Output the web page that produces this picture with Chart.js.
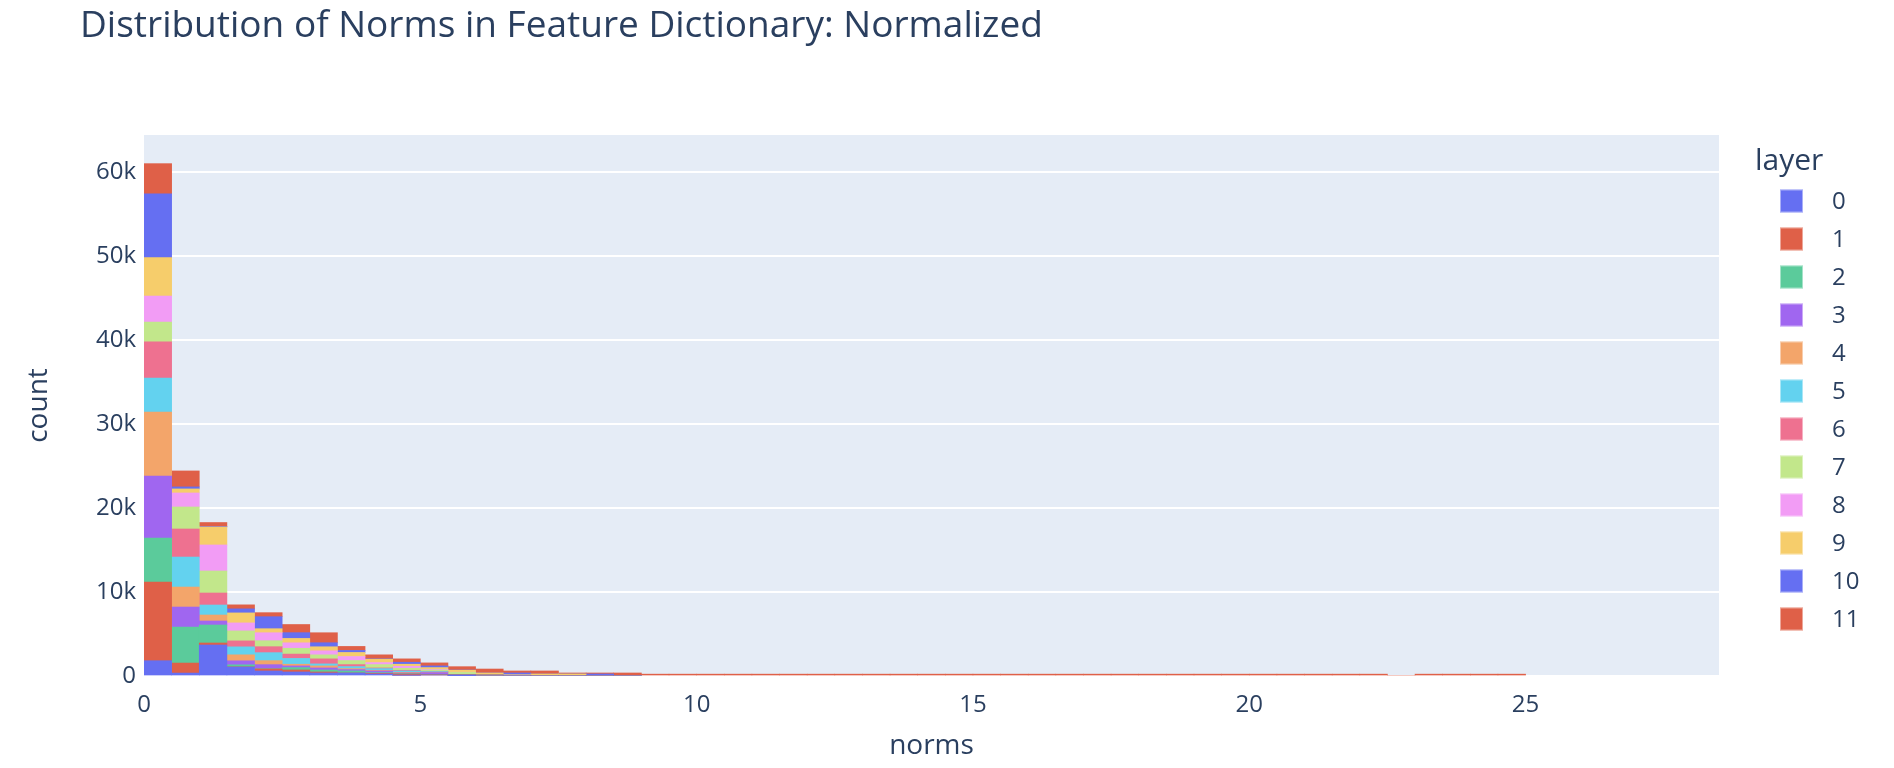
<!DOCTYPE html>
<html>
<head>
<meta charset="utf-8">
<script src="https://cdn.jsdelivr.net/npm/chart.js@4.4.0/dist/chart.umd.min.js"></script>
<style>
  html, body { margin: 0; padding: 0; background: #ffffff; }
  #wrap { width: 1894px; height: 768px; }
</style>
</head>
<body>
<div id="wrap"><canvas id="grafico_normas" width="1894" height="768"></canvas></div>
<script>
var chartTitle = 'Distribution of Norms in Feature Dictionary: Normalized';

// histogram bins of width 0.5, x = bin centre
var binCenters = [0.25,0.75,1.25,1.75,2.25,2.75,3.25,3.75,4.25,4.75,
  5.25,5.75,6.25,6.75,7.25,7.75,8.25,8.75,9.25,9.75,
  10.25,10.75,11.25,11.75,12.25,12.75,13.25,13.75,14.25,14.75,
  15.25,15.75,16.25,16.75,17.25,17.75,18.25,18.75,19.25,19.75,
  20.25,20.75,21.25,21.75,22.25,22.75,23.25,23.75,24.25,24.75];

var xTickValues = [0, 5, 10, 15, 20, 25];
var yTickValues = [0, 10000, 20000, 30000, 40000, 50000, 60000];
var yTickLabels = ['0', '10k', '20k', '30k', '40k', '50k', '60k'];

var layerNames = ['0','1','2','3','4','5','6','7','8','9','10','11'];

var layer0  = [1820,350,3690,1070,600,480,360,360,240,80,120,20,0,0,0,0,0,0];
var layer1  = [9360,1190,240,20,240,240,120,0,80,160,40,120,120,0,0,0,0,0];
var layer2  = [5240,4290,2140,240,30,280,240,240,80,40,40,10,0,0,0,0,0,0];
var layer3  = [7390,2380,480,480,480,200,240,160,200,80,200,10,0,0,0,0,0,0];
var layer4  = [7600,2380,710,710,480,200,240,120,80,80,40,10,0,120,0,0,0,0];
var layer5  = [4060,3570,1190,950,950,690,240,240,200,160,80,10,0,0,0,0,0,0];
var layer6  = [4300,3340,1430,710,710,520,600,240,80,80,40,10,0,0,0,0,0,0];
var layer7  = [2360,2620,2620,1190,710,690,480,480,400,240,160,240,0,0,0,0,0,0];
var layer8  = [3100,1670,3100,950,950,650,480,480,240,240,80,20,0,0,0,0,0,0];
var layer9  = [4580,480,2140,1190,480,520,480,480,400,240,200,240,240,0,240,240,0,0];
var layer10 = [7600,240,50,480,1430,690,480,240,40,240,200,20,0,240,0,0,240,0];
var layer11 = [3580,1900,480,480,480,970,1190,480,480,400,360,400,470,240,360,120,120,360,
  220,220,220,220,220,220,220,220,220,220,
  220,220,220,220,220,220,220,220,220,220,
  220,220,220,220,220,220,220,0,220,220,220,220];

var layerValues = [layer0, layer1, layer2, layer3, layer4, layer5,
  layer6, layer7, layer8, layer9, layer10, layer11];

var layerColors = ['#656ff2','#df6048','#5bcb9b','#a066f0','#f3a56a','#63d2ef',
  '#ee7190','#c2e78b','#f29cf5','#f6cd6b','#656ff2','#df6048'];

var textColor = '#2a3f5f';
var fontFamily = '"Open Sans", "Liberation Sans", sans-serif';

var datasets = [];
for (var i = 0; i < layerNames.length; i++) {
  datasets.push({
    label: layerNames[i],
    data: layerValues[i],
    backgroundColor: layerColors[i],
    borderWidth: 0,
    barPercentage: 1.0,
    categoryPercentage: 1.0
  });
}

// plot background + title + legend (plotly look)
var decor = {
  id: 'decor',
  beforeDraw: function (chart) {
    var c = chart.ctx, a = chart.chartArea;
    c.save();
    c.fillStyle = '#ffffff';
    c.fillRect(0, 0, chart.width, chart.height);
    c.fillStyle = '#e5ecf6';
    c.fillRect(a.left, a.top, a.right - a.left, a.bottom - a.top);
    c.restore();
  },
  afterDraw: function (chart) {
    var c = chart.ctx;
    c.save();
    c.fillStyle = textColor;
    c.textBaseline = 'alphabetic';
    c.textAlign = 'left';
    c.font = '37px ' + fontFamily;
    c.fillText(chartTitle, 80, 37);

    c.font = '30px ' + fontFamily;
    c.textBaseline = 'middle';
    c.fillText('layer', 1755, 161);

    c.font = '24px ' + fontFamily;
    chart.data.datasets.forEach(function (ds, k) {
      var cy = 201 + k * 38;
      c.fillStyle = ds.backgroundColor;
      c.fillRect(1780, cy - 11.5, 23, 23);
      c.strokeStyle = 'rgba(255,255,255,0.45)';
      c.lineWidth = 1;
      c.strokeRect(1780.5, cy - 11, 22, 22);
      c.fillStyle = textColor;
      c.fillText(ds.label, 1832, cy + 1);
    });
    c.restore();
  }
};

var ctx = document.getElementById('grafico_normas').getContext('2d');
var myChart = new Chart(ctx, {
  type: 'bar',
  data: {
    labels: binCenters,
    datasets: datasets
  },
  options: {
    responsive: false,
    animation: false,
    devicePixelRatio: 1,
    layout: { padding: { left: 0, right: 175, top: 135, bottom: 0 } },
    plugins: {
      legend: { display: false },
      title: { display: false },
      tooltip: { enabled: false }
    },
    scales: {
      x: {
        type: 'linear',
        stacked: true,
        offset: false,
        min: 0,
        max: 28.5,
        grid: { display: false },
        border: { display: false },
        afterBuildTicks: function (s) {
          s.ticks = xTickValues.map(function (v) { return { value: v }; });
        },
        ticks: {
          padding: 7,
          color: textColor,
          font: { family: fontFamily, size: 24 },
          callback: function (v) { return String(v); }
        },
        title: {
          display: true,
          text: 'norms',
          color: textColor,
          font: { family: fontFamily, size: 28 },
          padding: { top: 0, bottom: 5 }
        },
        afterFit: function (s) { s.height = 92; }
      },
      y: {
        stacked: true,
        min: 0,
        max: 64400,
        grid: { color: '#ffffff', lineWidth: 2, drawTicks: false },
        border: { display: false },
        afterBuildTicks: function (s) {
          s.ticks = yTickValues.map(function (v) { return { value: v }; });
        },
        ticks: {
          padding: 8,
          color: textColor,
          font: { family: fontFamily, size: 24 },
          callback: function (v) { return yTickLabels[yTickValues.indexOf(v)]; }
        },
        title: {
          display: true,
          text: 'count',
          color: textColor,
          font: { family: fontFamily, size: 28 },
          padding: { top: 22, bottom: 0 }
        },
        afterFit: function (s) { s.width = 144; }
      }
    }
  },
  plugins: [decor]
});
</script>
</body>
</html>
